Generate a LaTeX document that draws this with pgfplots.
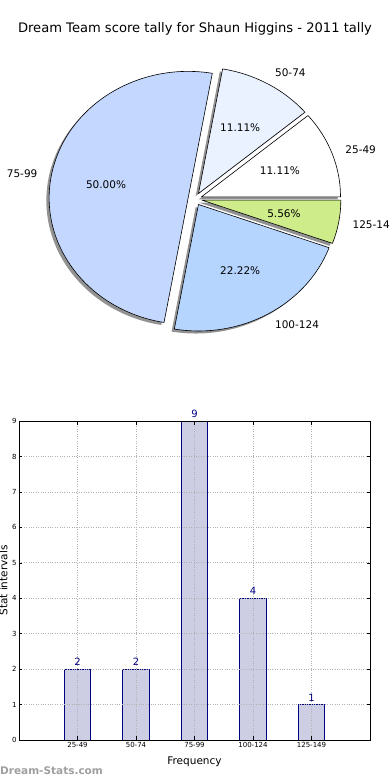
\documentclass[border=0pt]{standalone}
\usepackage{pgfplots}
\usepackage{pgfplotstable}
\pgfplotsset{compat=1.18}
\usepackage{fontspec}
\setmainfont{DejaVu Sans}

\definecolor{cA}{HTML}{FFFFFF}
\definecolor{cB}{HTML}{EBF2FF}
\definecolor{cC}{HTML}{C4D8FF}
\definecolor{cD}{HTML}{B5D5FF}
\definecolor{cE}{HTML}{CFEC8A}
\definecolor{barfill}{HTML}{CDCDE4}
\definecolor{navy}{HTML}{000080}

\pgfplotstableread{
label value
25-49 2
50-74 2
75-99 9
100-124 4
125-149 1
}\datatable

% angles of the pie slices, from the data
\pgfplotstablegetelem{0}{value}\of\datatable \let\vA\pgfplotsretval
\pgfplotstablegetelem{1}{value}\of\datatable \let\vB\pgfplotsretval
\pgfplotstablegetelem{2}{value}\of\datatable \let\vC\pgfplotsretval
\pgfplotstablegetelem{3}{value}\of\datatable \let\vD\pgfplotsretval
\pgfplotstablegetelem{4}{value}\of\datatable \let\vE\pgfplotsretval
\pgfmathsetmacro\vT{\vA+\vB+\vC+\vD+\vE}
\pgfmathsetmacro\aA{0}
\pgfmathsetmacro\aB{\aA+360*\vA/\vT}
\pgfmathsetmacro\aC{\aB+360*\vB/\vT}
\pgfmathsetmacro\aD{\aC+360*\vC/\vT}
\pgfmathsetmacro\aE{\aD+360*\vD/\vT}
\pgfmathsetmacro\aF{\aE+360*\vE/\vT}

\newcommand\pieshadow[2]{%
\pgfplotsextra{%
 \pgfmathsetmacro\pmid{(#1+#2)/2}%
 \pgfmathsetmacro\pdx{0.05*cos(\pmid)-0.02}%
 \pgfmathsetmacro\pdy{0.05*sin(\pmid)-0.02}%
 \fill[gray!45!black, opacity=0.55] (axis cs:\pdx,\pdy) -- ++(#1:139bp and 126.5bp)
   arc[start angle=#1, end angle=#2, x radius=139bp, y radius=126.5bp] -- cycle;
}}
\newcommand\pieslice[5]{%
\pgfplotsextra{%
 \pgfmathsetmacro\pmid{(#1+#2)/2}%
 \pgfmathsetmacro\pdx{0.05*cos(\pmid)}%
 \pgfmathsetmacro\pdy{0.05*sin(\pmid)}%
 \filldraw[fill=#3, draw=black, line width=0.6bp, line join=round] (axis cs:\pdx,\pdy) -- ++(#1:139bp and 126.5bp)
   arc[start angle=#1, end angle=#2, x radius=139bp, y radius=126.5bp] -- cycle;
 \pgfmathsetmacro\pc{cos(\pmid)}%
 \ifdim\pc pt>0pt \def\panchor{west}\else\def\panchor{east}\fi
 \pgfmathsetmacro\plx{\pdx+1.1*cos(\pmid)}%
 \pgfmathsetmacro\ply{\pdy+1.1*sin(\pmid)}%
 \pgfmathsetmacro\ppx{\pdx+0.6*cos(\pmid)}%
 \pgfmathsetmacro\ppy{\pdy+0.6*sin(\pmid)}%
 \node[anchor=\panchor, inner sep=0pt, font=\fontsize{10.5bp}{12bp}\selectfont] at (axis cs:\plx,\ply) {#4};
 \pgfmathsetmacro\ppct{100*#5/\vT}%
 \node[inner sep=0pt, font=\fontsize{10.5bp}{12bp}\selectfont] at (axis cs:\ppx,\ppy) {\pgfmathprintnumber[fixed, fixed zerofill, precision=2, assume math mode=true]{\ppct}\%};
}}

\begin{document}
\begin{tikzpicture}
\path[use as bounding box] (0,0) rectangle (390bp,780bp);
\node[font=\fontsize{13.1bp}{15bp}\selectfont] at (195bp,751bp) {Dream Team score tally for Shaun Higgins - 2011 tally};

\begin{axis}[at={(195bp,581bp)}, anchor=origin, x=139bp, y=126.5bp,
  xmin=-1.3, xmax=1.3, ymin=-1.15, ymax=1.15, hide axis, clip=false]
\pieshadow{\aA}{\aB}
\pieshadow{\aB}{\aC}
\pieshadow{\aC}{\aD}
\pieshadow{\aD}{\aE}
\pieshadow{\aE}{\aF}
\pieslice{\aA}{\aB}{cA}{25-49}{\vA}
\pieslice{\aB}{\aC}{cB}{50-74}{\vB}
\pieslice{\aC}{\aD}{cC}{75-99}{\vC}
\pieslice{\aD}{\aE}{cD}{100-124}{\vD}
\pieslice{\aE}{\aF}{cE}{125-149}{\vE}
\end{axis}

\begin{axis}[at={(19bp,40bp)}, anchor=south west, width=351bp, height=319bp, scale only axis,
  xmin=0, xmax=6, ymin=0, ymax=9,
  xtick={1,2,3,4,5}, xticklabels from table={\datatable}{label},
  ytick={0,1,...,9},
  /pgf/number format/assume math mode=true,
  ticklabel style={font=\fontsize{7bp}{8bp}\selectfont},
  tick align=inside, major tick length=3.5bp,
  xtick pos=both, ytick pos=both,
  tick style={black, line width=0.5bp},
  grid=major, grid style={dotted, gray!60, line width=0.7bp},
  axis on top, axis line style={line width=0.7bp},
  xlabel={Frequency}, ylabel={Stat intervals},
  label style={font=\fontsize{10.5bp}{12bp}\selectfont},
  xlabel style={at={(rel axis cs:0.5,0)}, anchor=north, yshift=-13bp},
  ylabel style={at={(rel axis cs:0,0.5)}, anchor=south, rotate=0, yshift=8bp},
  yticklabel style={xshift=1bp},
  xticklabel style={yshift=1bp},
]
\addplot[ybar, bar width=0.45, bar shift=0pt, fill=barfill, draw=navy, line width=0.7bp,
  nodes near coords, every node near coord/.append style={text=navy, font=\fontsize{10bp}{11bp}\selectfont, inner sep=0pt, anchor=south, yshift=3bp}]
  table[x expr=\coordindex+1, y=value] {\datatable};
\end{axis}

\node[anchor=west, inner sep=0pt, text=gray!75, font=\bfseries\fontsize{10.5bp}{12bp}\selectfont] at (0bp,9bp) {Dream-Stats.com};
\end{tikzpicture}
\end{document}
